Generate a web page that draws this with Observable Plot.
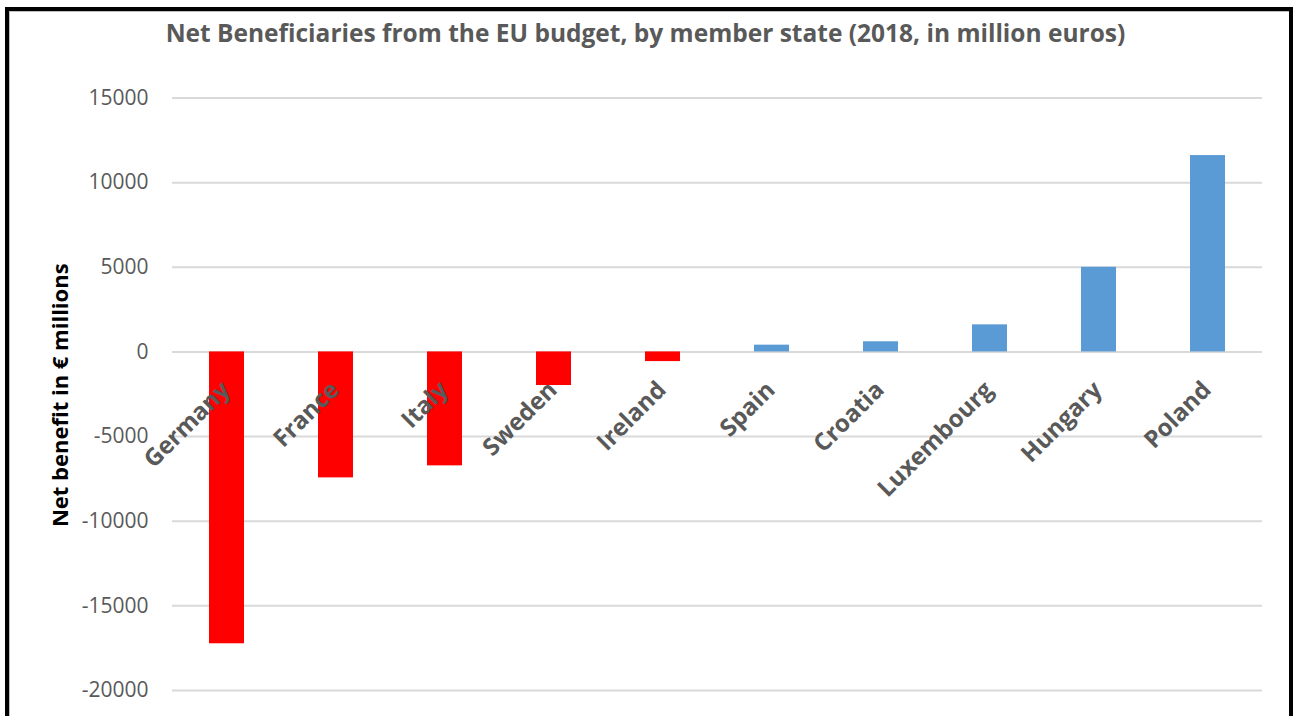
<!DOCTYPE html>
<html>
<head>
<meta charset="utf-8">
<script src="https://cdn.jsdelivr.net/npm/d3@7"></script>
<script src="https://cdn.jsdelivr.net/npm/@observablehq/plot@0.6"></script>
<style>
  html, body { margin: 0; padding: 0; background: #fff; }
  #wrap { position: relative; width: 1293px; height: 716px; overflow: hidden; }
  #frame { position: absolute; left: 5px; top: 7px; width: 1280px; height: 730px;
           border-left: 4px solid #000; border-top: 4px solid #000; border-right: 4px solid #000;
           box-shadow: inset 1px 1px 0 #bfbfbf; pointer-events: none; }
</style>
</head>
<body>
<div id="wrap"><div id="chart"></div><div id="frame"></div></div>
<script>
const titleText = "Net Beneficiaries from the EU budget, by member state (2018, in million euros)";
const yLabel = "Net benefit in € millions";
const countries = ["Germany", "France", "Italy", "Sweden", "Ireland", "Spain", "Croatia", "Luxembourg", "Hungary", "Poland"];
const netBenefit = [-17240, -7440, -6730, -1985, -570, 400, 600, 1600, 5000, 11600];
const yTicks = [-20000, -15000, -10000, -5000, 0, 5000, 10000, 15000];

const data = countries.map((c, i) => ({country: c, value: netBenefit[i]}));

const chart = Plot.plot({
  width: 1293,
  height: 716,
  marginLeft: 172,
  marginRight: 31,
  marginTop: 97.5,
  marginBottom: 26,
  style: {fontFamily: "'Open Sans', sans-serif", background: "#fff"},
  x: {domain: countries, paddingInner: 0.68, paddingOuter: 0.34, axis: null},
  y: {domain: [-20000, 15000], axis: null},
  color: {type: "identity"},
  marks: [
    Plot.ruleY(yTicks, {stroke: "#d9d9d9", strokeWidth: 2}),
    Plot.barY(data, {x: "country", y: "value", fill: d => d.value < 0 ? "#ff0000" : "#5b9bd5"}),
    Plot.axisY({ticks: yTicks, tickSize: 0, tickPadding: 24, fontSize: 21, fill: "#595959",
                tickFormat: d => String(d), label: null}),
    Plot.text(data, {x: "country", y: () => 0, text: "country", rotate: -45, textAnchor: "end",
                     dx: -1, dy: 34, fontSize: 24, fontWeight: "bold", fill: "#595959"}),
    Plot.text([titleText], {text: d => d, frameAnchor: "top", textAnchor: "middle", dx: -72, dy: -73,
                            fontSize: 24.5, fontWeight: "bold", fill: "#595959"}),
    Plot.text([yLabel], {text: d => d, frameAnchor: "left", textAnchor: "middle", rotate: -90, dx: -112, dy: 1,
                         fontSize: 22, fontWeight: "bold", fill: "#000"})
  ]
});
document.getElementById("chart").appendChild(chart);
</script>
</body>
</html>
